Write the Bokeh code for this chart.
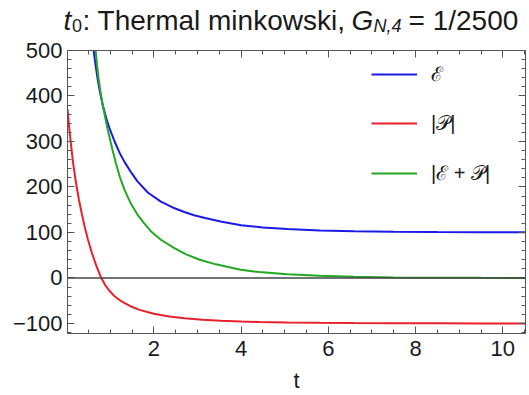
from bokeh.plotting import figure
from bokeh.layouts import column
from bokeh.models import (Range1d, SingleIntervalTicker, LinearAxis, Span, Label,
                          Legend, LegendItem, CustomJSTickFormatter)
from bokeh.embed import file_html
from bokeh.resources import INLINE

# ---- data ----
t_E = [0.62, 0.66, 0.71, 0.77, 0.83, 0.91, 0.99, 1.10, 1.21, 1.34, 1.48, 1.62, 1.86,
       2.16, 2.43, 2.70, 2.92, 3.20, 3.53, 4.00, 4.50, 5.06, 5.80, 6.59, 7.50, 8.50,
       9.50, 10.52]
E = [500, 470, 438, 406, 379, 351, 327, 300, 276, 253, 232, 213, 188,
     168, 155, 145, 138, 131.5, 124, 116, 111, 107.5, 104.5, 102.7, 101.6, 100.9,
     100.5, 100.3]

t_P = [0.02, 0.06, 0.10, 0.15, 0.21, 0.28, 0.35, 0.41, 0.49, 0.58, 0.68, 0.79, 0.88,
       0.98, 1.10, 1.25, 1.45, 1.67, 2.00, 2.35, 2.70, 3.12, 3.53, 4.00, 4.42, 5.06,
       5.80, 6.59, 7.50, 8.50, 9.50, 10.52]
P = [371, 330, 293, 252, 212, 173, 140, 114, 84, 55, 27, 1, -15,
     -28, -40, -51, -61.5, -70, -78.5, -84.5, -88.7, -92, -94, -95.7, -96.7, -97.7,
     -98.5, -99, -99.4, -99.7, -99.85, -99.95]

t_G = [0.665, 0.70, 0.73, 0.78, 0.83, 0.89, 0.94, 1.00, 1.055, 1.13, 1.22, 1.33, 1.475,
       1.62, 1.77, 1.95, 2.16, 2.46, 2.74, 3.05, 3.42, 3.99, 4.42, 5.06, 5.80, 6.59,
       7.50, 8.50, 9.50, 10.52]
G = [500, 466, 440, 407, 379, 350, 327, 302, 280, 252, 222, 193, 163,
     140, 121, 101, 84, 66, 52, 40, 30, 18, 13, 8, 4.7, 2.6,
     1.3, 0.6, 0.3, 0.1]

series_labels = ["\u2130", "|\U0001D4AB|", "|\u2130 + \U0001D4AB|"]
series_colors = ["#1a1ae6", "#e8202a", "#22a822"]
x_tick_step = 2
y_tick_step = 100
y_label_overrides = {-100: "\u2212100"}

FONT = "Liberation Sans"
FRAME = "#555555"
TXT = "#1a1a1a"

# ---- title strip ----
TITLE_H = 37
tf = figure(width=529, height=TITLE_H, output_backend="svg", toolbar_location=None,
            x_range=Range1d(0, 1), y_range=Range1d(0, 1),
            min_border_left=0, min_border_right=0, min_border_top=0,
            min_border_bottom=0, x_axis_location=None, y_axis_location=None)
tf.frame_align = False
tf.outline_line_color = None
tf.grid.visible = False
tf.background_fill_color = "white"
tf.border_fill_color = "white"

title_parts = [
    ("t", 63, 17, "28px", "italic"),
    ("0", 71.5, 12, "18px", "normal"),
    (": Thermal minkowski,", 82, 17, "28px", "normal"),
    ("G", 351, 17, "28px", "italic"),
    ("N,4", 373, 12, "18px", "italic"),
    ("= 1/2500", 408, 17, "28px", "normal"),
]
for txt, x, y, size, style in title_parts:
    tf.add_layout(Label(x=x, y=y, x_units="screen", y_units="screen", text=txt,
                        text_font=FONT, text_font_size=size, text_font_style=style,
                        text_color=TXT, text_baseline="alphabetic"))

# ---- main plot ----
p = figure(width=529, height=395 - TITLE_H, output_backend="svg", toolbar_location=None,
           x_range=Range1d(0.02, 10.52), y_range=Range1d(-122, 500),
           min_border_left=67, min_border_right=4, min_border_top=50 - TITLE_H,
           min_border_bottom=62)
p.frame_align = False
p.xgrid.visible = False
p.ygrid.visible = False
p.outline_line_color = FRAME
p.background_fill_color = "white"
p.border_fill_color = "white"


def style_axis(ax, show_labels=True):
    ax.axis_line_color = FRAME
    ax.major_tick_line_color = FRAME
    ax.minor_tick_line_color = FRAME
    ax.major_tick_in = 7
    ax.major_tick_out = 0
    ax.minor_tick_in = 4
    ax.minor_tick_out = 0
    ax.major_label_text_font = FONT
    ax.major_label_text_color = TXT
    ax.major_label_text_font_size = "22px"
    if not show_labels:
        ax.formatter = CustomJSTickFormatter(code="return ''")
        ax.major_label_standoff = 0


p.xaxis.ticker = SingleIntervalTicker(interval=x_tick_step, num_minor_ticks=4)
p.yaxis.ticker = SingleIntervalTicker(interval=y_tick_step, num_minor_ticks=5)
style_axis(p.xaxis[0])
style_axis(p.yaxis[0])
p.xaxis.major_label_standoff = 7
p.yaxis.major_label_standoff = 5
p.yaxis.major_label_overrides = y_label_overrides
p.xaxis.axis_label = "t"
p.xaxis.axis_label_text_font = FONT
p.xaxis.axis_label_text_font_style = "normal"
p.xaxis.axis_label_text_font_size = "22px"
p.xaxis.axis_label_text_color = TXT
p.xaxis.axis_label_standoff = 9

top_ax = LinearAxis(ticker=SingleIntervalTicker(interval=x_tick_step, num_minor_ticks=4))
right_ax = LinearAxis(ticker=SingleIntervalTicker(interval=y_tick_step, num_minor_ticks=5))
style_axis(top_ax, False)
style_axis(right_ax, False)
p.add_layout(top_ax, "above")
p.add_layout(right_ax, "right")

p.add_layout(Span(location=0, dimension="width", line_color="#444444", line_width=1.3))

r1 = p.line(t_E, E, line_color=series_colors[0], line_width=2)
r2 = p.line(t_P, P, line_color=series_colors[1], line_width=2)
r3 = p.line(t_G, G, line_color=series_colors[2], line_width=2)

legend = Legend(items=[LegendItem(label=series_labels[0], renderers=[r1]),
                       LegendItem(label=series_labels[1], renderers=[r2]),
                       LegendItem(label=series_labels[2], renderers=[r3])],
                location=(304, 147), orientation="vertical",
                border_line_color=None, background_fill_alpha=0,
                padding=0, margin=0, spacing=24, label_height=24, glyph_height=24,
                glyph_width=46, label_standoff=14,
                label_text_font_size="20px", label_text_font=FONT,
                label_text_color=TXT)
p.add_layout(legend)

layout = column(tf, p, spacing=0)
open("out.html", "w").write(file_html(layout, INLINE))
